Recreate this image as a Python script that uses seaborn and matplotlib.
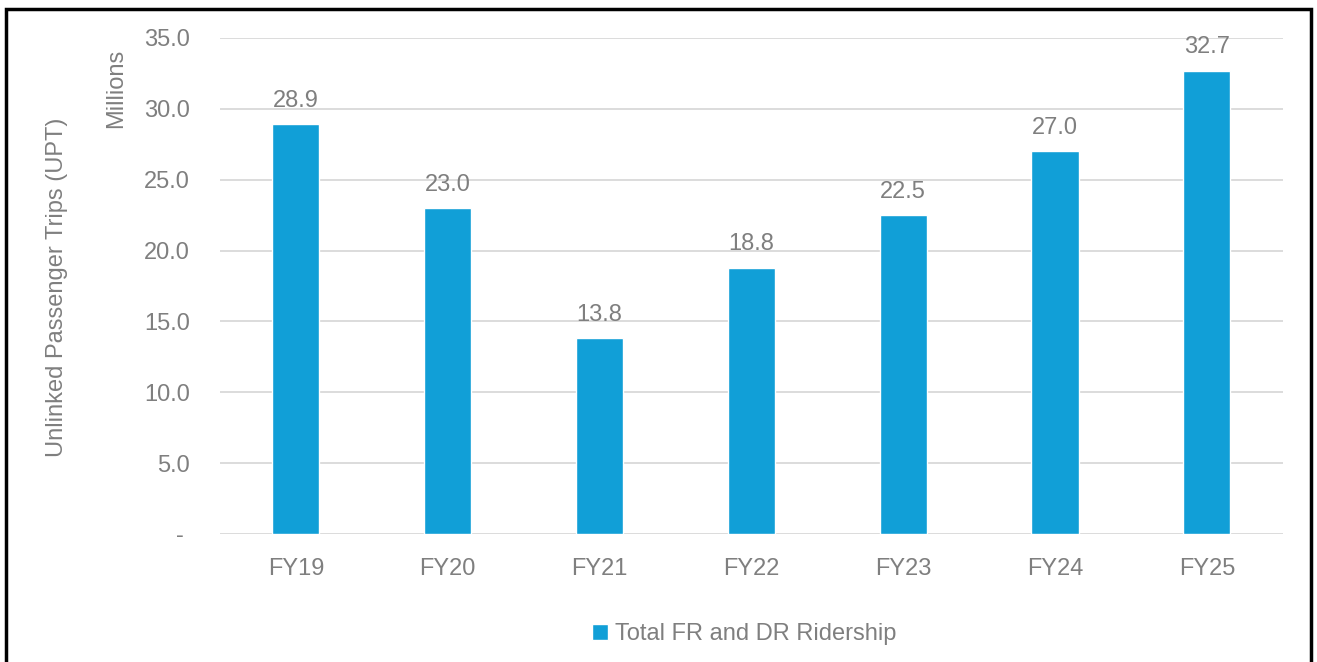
import matplotlib
matplotlib.use("Agg")
import matplotlib.pyplot as plt
import seaborn as sns
import pandas as pd
from matplotlib.patches import Rectangle, Patch
from matplotlib.ticker import FuncFormatter

# Data
years = ["FY19", "FY20", "FY21", "FY22", "FY23", "FY24", "FY25"]
ridership = [28.9, 23.0, 13.8, 18.8, 22.5, 27.0, 32.7]
y_ticks = [0, 5, 10, 15, 20, 25, 30, 35]

BAR = "#119FD7"
TXT = "#7F7F7F"
GRID = "#D9D9D9"
FS = 17

df = pd.DataFrame({"Year": years, "UPT": ridership})

sns.set_theme(style="white")
plt.rcParams["font.family"] = ["Liberation Sans", "DejaVu Sans"]

fig = plt.figure(figsize=(13.17, 6.62), dpi=100)
ax = fig.add_axes([0.167, 0.1934, 0.807, 0.7492])

sns.barplot(data=df, x="Year", y="UPT", color=BAR, width=0.31,
            saturation=1, ax=ax, zorder=3)

ax.set_ylim(0, 35)
ax.set_yticks(y_ticks)
ax.yaxis.set_major_formatter(FuncFormatter(lambda v, p: "- " if v == 0 else f"{v:.1f}"))
ax.grid(axis="y", color=GRID, linewidth=1.3, zorder=0)
ax.set_axisbelow(True)
for s in ax.spines.values():
    s.set_visible(False)

ax.tick_params(axis="y", length=0, pad=21.5, labelsize=FS, labelcolor=TXT)
ax.tick_params(axis="x", length=0, pad=17.5, labelsize=FS, labelcolor=TXT)
ax.set_xlabel("")
ax.set_ylabel("")

for cont in ax.containers:
    ax.bar_label(cont, fmt="%.1f", padding=9, fontsize=FS, color=TXT)

fig.text(0.0435, 0.566, "Unlinked Passenger Trips (UPT)", rotation=90,
         ha="center", va="center", fontsize=FS, color=TXT)
fig.text(0.088, 0.867, "Millions", rotation=90,
         ha="center", va="center", fontsize=FS, color=TXT)

handles = [Patch(facecolor=BAR, label="Total FR and DR Ridership")]
fig.legend(handles=handles, loc="center", bbox_to_anchor=(0.565, 0.042),
           frameon=False, fontsize=FS, labelcolor=TXT,
           handlelength=0.7, handleheight=0.7, handletextpad=0.3)

fig.patches.append(Rectangle((0.0049, -0.02), 0.9905, 1.0064,
                             transform=fig.transFigure, fill=False,
                             edgecolor="black", linewidth=2.5))

fig.savefig("out.png", dpi=100)
